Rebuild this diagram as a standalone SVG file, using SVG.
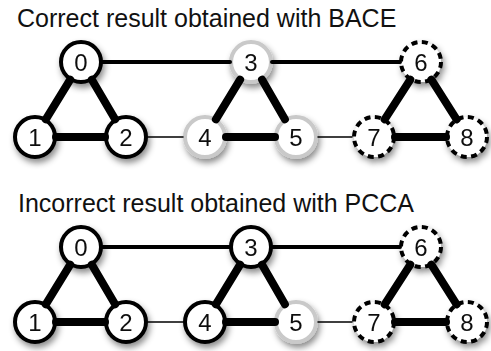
<svg xmlns="http://www.w3.org/2000/svg" width="491" height="351" viewBox="0 0 491 351">
<defs>
<filter id="sh" x="-50%" y="-50%" width="200%" height="200%">
<feDropShadow dx="2" dy="4" stdDeviation="3" flood-color="#000" flood-opacity="0.45"/>
</filter>
<style>
.title{font-family:"Liberation Sans",Arial,sans-serif;font-size:25px;fill:#111}
.lbl{font-family:"Liberation Sans",Arial,sans-serif;font-size:24px;fill:#111;text-anchor:middle}
circle{fill:#fff;stroke-width:4}
.k{stroke:#000}
.g{stroke:#c9c9c9}
.d{stroke:#000;stroke-dasharray:6 4.5}
.e{stroke:#000;stroke-linecap:round;fill:none}
.w8{stroke-width:8}
.w4{stroke-width:4}
.w1{stroke-width:1.5}
</style>
</defs>
<rect width="491" height="351" fill="#fff"/>
<text class="title" x="17" y="26.5">Correct result obtained with BACE</text>
<text class="title" x="18" y="211.5">Incorrect result obtained with PCCA</text>

<g id="top-nodes" filter="url(#sh)">
<g id="t0"><circle class="k" cx="81" cy="62" r="20"/><text class="lbl" x="81" y="70.5">0</text></g>
<g id="t1"><circle class="k" cx="35" cy="137" r="20"/><text class="lbl" x="35" y="145.5">1</text></g>
<g id="t2"><circle class="k" cx="126" cy="137" r="20"/><text class="lbl" x="126" y="145.5">2</text></g>
<g id="t3"><circle class="g" cx="251" cy="62" r="20"/><text class="lbl" x="251" y="70.5">3</text></g>
<g id="t4"><circle class="g" cx="205" cy="137" r="20"/><text class="lbl" x="205" y="145.5">4</text></g>
<g id="t5"><circle class="g" cx="296" cy="137" r="20"/><text class="lbl" x="296" y="145.5">5</text></g>
<g id="t6"><circle class="d" cx="421" cy="62" r="20"/><text class="lbl" x="421" y="70.5">6</text></g>
<g id="t7"><circle class="d" cx="374" cy="137" r="20"/><text class="lbl" x="374" y="145.5">7</text></g>
<g id="t8"><circle class="d" cx="467" cy="137" r="20"/><text class="lbl" x="467" y="145.5">8</text></g>
</g>

<g id="bottom-nodes" filter="url(#sh)">
<g id="b0"><circle class="k" cx="81" cy="247" r="20"/><text class="lbl" x="81" y="255.5">0</text></g>
<g id="b1"><circle class="k" cx="35" cy="322" r="20"/><text class="lbl" x="35" y="330.5">1</text></g>
<g id="b2"><circle class="k" cx="126" cy="322" r="20"/><text class="lbl" x="126" y="330.5">2</text></g>
<g id="b3"><circle class="k" cx="251" cy="247" r="20"/><text class="lbl" x="251" y="255.5">3</text></g>
<g id="b4"><circle class="k" cx="205" cy="322" r="20"/><text class="lbl" x="205" y="330.5">4</text></g>
<g id="b5"><circle class="g" cx="296" cy="322" r="20"/><text class="lbl" x="296" y="330.5">5</text></g>
<g id="b6"><circle class="d" cx="421" cy="247" r="20"/><text class="lbl" x="421" y="255.5">6</text></g>
<g id="b7"><circle class="d" cx="374" cy="322" r="20"/><text class="lbl" x="374" y="330.5">7</text></g>
<g id="b8"><circle class="d" cx="467" cy="322" r="20"/><text class="lbl" x="467" y="330.5">8</text></g>
</g>

<g id="connectors">
<!-- top -->
<line class="e w8" x1="70.2" y1="79.7" x2="45.8" y2="119.3"/>
<line class="e w8" x1="91.9" y1="79.7" x2="115.1" y2="119.3"/>
<line class="e w8" x1="56" y1="137" x2="105" y2="137"/>
<line class="e w4" x1="102" y1="62" x2="230" y2="62"/>
<line class="e w1" x1="148" y1="137" x2="183" y2="137"/>
<line class="e w8" x1="240.1" y1="79.7" x2="215.9" y2="119.3"/>
<line class="e w8" x1="262.1" y1="79.7" x2="284.9" y2="119.3"/>
<line class="e w8" x1="226" y1="137" x2="275" y2="137"/>
<line class="e w4" x1="272" y1="62" x2="400" y2="62"/>
<line class="e w1" x1="318" y1="137" x2="352" y2="137"/>
<line class="e w8" x1="410.3" y1="79.7" x2="384.7" y2="119.3"/>
<line class="e w8" x1="431.4" y1="79.7" x2="456.6" y2="119.3"/>
<line class="e w8" x1="395" y1="137" x2="446" y2="137"/>
<!-- bottom -->
<line class="e w8" x1="70.2" y1="264.7" x2="45.8" y2="304.3"/>
<line class="e w8" x1="91.9" y1="264.7" x2="115.1" y2="304.3"/>
<line class="e w8" x1="56" y1="322" x2="105" y2="322"/>
<line class="e w4" x1="102" y1="247" x2="230" y2="247"/>
<line class="e w1" x1="148" y1="322" x2="183" y2="322"/>
<line class="e w8" x1="240.1" y1="264.7" x2="215.9" y2="304.3"/>
<line class="e w8" x1="262.1" y1="264.7" x2="284.9" y2="304.3"/>
<line class="e w8" x1="226" y1="322" x2="275" y2="322"/>
<line class="e w4" x1="272" y1="247" x2="400" y2="247"/>
<line class="e w1" x1="318" y1="322" x2="352" y2="322"/>
<line class="e w8" x1="410.3" y1="264.7" x2="384.7" y2="304.3"/>
<line class="e w8" x1="431.4" y1="264.7" x2="456.6" y2="304.3"/>
<line class="e w8" x1="395" y1="322" x2="446" y2="322"/>
</g>
</svg>
